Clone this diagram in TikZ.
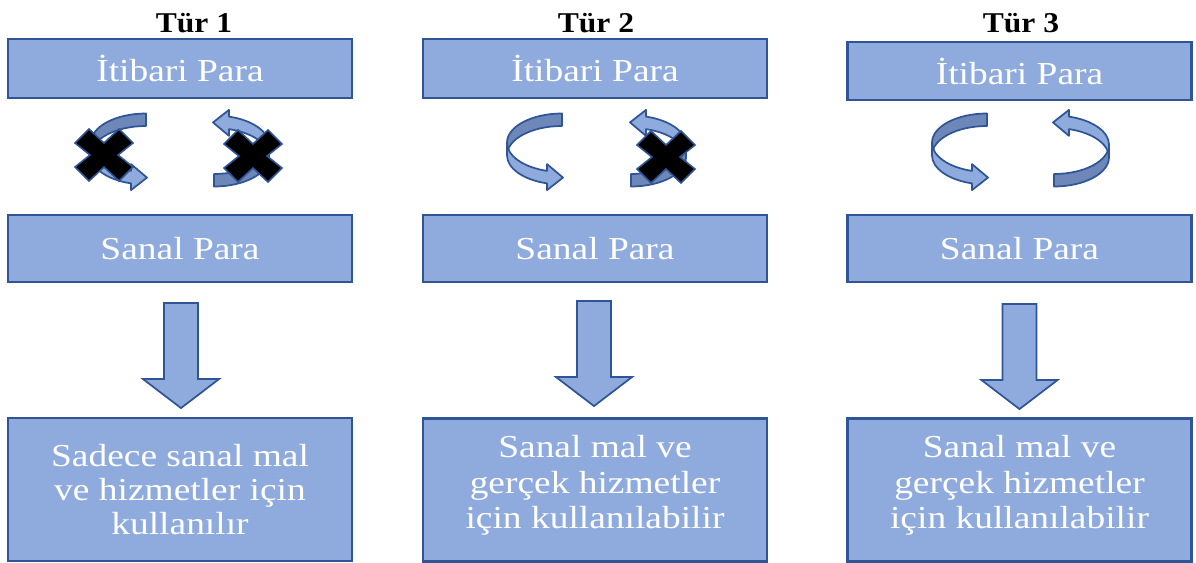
\documentclass[tikz,border=0pt]{standalone}
\usepackage{fontspec}
\setmainfont{Liberation Serif}[FakeStretch=1.17]
\newfontfamily\headfont{Liberation Serif}[FakeStretch=1.1]
\usetikzlibrary{calc}

\definecolor{boxfill}{RGB}{143,170,220}
\definecolor{boxline}{RGB}{47,85,151}
\definecolor{ribbondark}{RGB}{110,135,185}
\definecolor{ribbonlight}{RGB}{143,170,220}

\tikzset{
  box/.style={draw=boxline, line width=1.6pt, fill=boxfill, text=white,
    font=\fontsize{24}{25.5}\selectfont, align=center, minimum width=258pt, inner sep=0pt},
  heading/.style={font=\headfont\fontsize{21.5}{24}\selectfont\bfseries, text=black, inner sep=0pt},
  blockarrow/.style={draw=boxline, line width=1.3pt, fill=boxfill, line join=miter},
  ribbonback/.style={draw=boxline, line width=1.3pt, fill=ribbondark, line join=round},
  ribbonfront/.style={draw=boxline, line width=1.3pt, fill=ribbonlight, line join=round},
  xmark/.style={draw=boxline, line width=1.2pt, fill=black, line join=miter},
  % half of a ring-shaped ribbon arrow: back half shows the inner face, front half ends in a head
  turnarrow/.pic={
    \filldraw[ribbonback] (0,35.5)
      arc[start angle=90, end angle=180, x radius=55, y radius=29.25]
      -- (-55,-6.25)
      arc[start angle=180, end angle=90, x radius=55, y radius=29.25]
      -- cycle;
    \filldraw[ribbonfront] (-55,6.25)
      arc[start angle=180, end angle=254.2, x radius=55, y radius=29.25]
      -- (-15,-15.1) -- (1,-28.6) -- (-15,-41.1) -- (-15,-34.39)
      arc[start angle=254.2, end angle=180, x radius=55, y radius=29.25]
      -- cycle;
  },
  crossmark/.pic={
    \filldraw[xmark] (-29,12) -- (-15,26) -- (0,12) -- (15,26) -- (29,12) -- (14,0)
      -- (29,-12) -- (15,-26) -- (0,-12) -- (-15,-26) -- (-29,-12) -- (-14,0) -- cycle;
  },
  downblock/.pic={
    \filldraw[blockarrow] (-17,-20) -- (17,-20) -- (17,-96) -- (38,-96) -- (0,-125)
      -- (-38,-96) -- (-17,-96) -- cycle;
  },
}

\begin{document}
\begin{tikzpicture}[x=0.75pt, y=0.75pt]
  \useasboundingbox (0,0) rectangle (1196,-563);
  \fill[white] (0,0) rectangle (1196,-563);

  % column headings
  \node[heading, anchor=base] (h1) at (194,-33) {Tür 1};
  \node[heading, anchor=base] (h2) at (596,-33) {Tür 2};
  \node[heading, anchor=base] (h3) at (1021,-33) {Tür 3};

  % fiat money boxes
  \node[box, minimum height=44.25pt] (f1) at (180,-68.5) {İtibari Para};
  \node[box, minimum height=44.25pt] (f2) at (595,-68.5) {İtibari Para};
  \node[box, minimum height=43.5pt] (f3) at (1019.5,-71) {İtibari Para};

  % virtual money boxes
  \node[box, minimum height=50.25pt] (v1) at (180,-248.5) {Sanal Para};
  \node[box, minimum height=50.25pt] (v2) at (595,-248.5) {Sanal Para};
  \node[box, minimum height=50.25pt] (v3) at (1019.5,-248.5) {Sanal Para};

  % usage boxes
  \node[box, minimum height=107.25pt] (u1) at (180,-489.5)
    {Sadece sanal mal\\ve hizmetler için\\kullanılır};
  \node[box, minimum height=107.25pt, font=\fontsize{24}{26.5}\selectfont] (u2) at (595,-490)
    {Sanal mal ve\\gerçek hizmetler\\için kullanılabilir\rule[-12pt]{0pt}{12pt}};
  \node[box, minimum height=107.25pt, font=\fontsize{24}{26.5}\selectfont] (u3) at (1019.5,-490)
    {Sanal mal ve\\gerçek hizmetler\\için kullanılabilir\rule[-12pt]{0pt}{12pt}};

  % exchange arrows between fiat and virtual money
  \pic at (146,-149) {turnarrow};
  \pic[rotate=180] at (214,-151) {turnarrow};
  \pic at (104,-155) {crossmark};
  \pic at (253,-156) {crossmark};

  \pic at (562,-149) {turnarrow};
  \pic[rotate=180] at (631,-151) {turnarrow};
  \pic at (666,-157) {crossmark};

  \pic at (987,-149) {turnarrow};
  \pic[rotate=180] at (1054,-151) {turnarrow};

  % block arrows down to the usage boxes
  \pic at ($(v1.south)+(1,0)$) {downblock};
  \pic at ($(v2.south)+(-1,2)$) {downblock};
  \pic at ($(v3.south)+(0,-1)$) {downblock};
\end{tikzpicture}
\end{document}
